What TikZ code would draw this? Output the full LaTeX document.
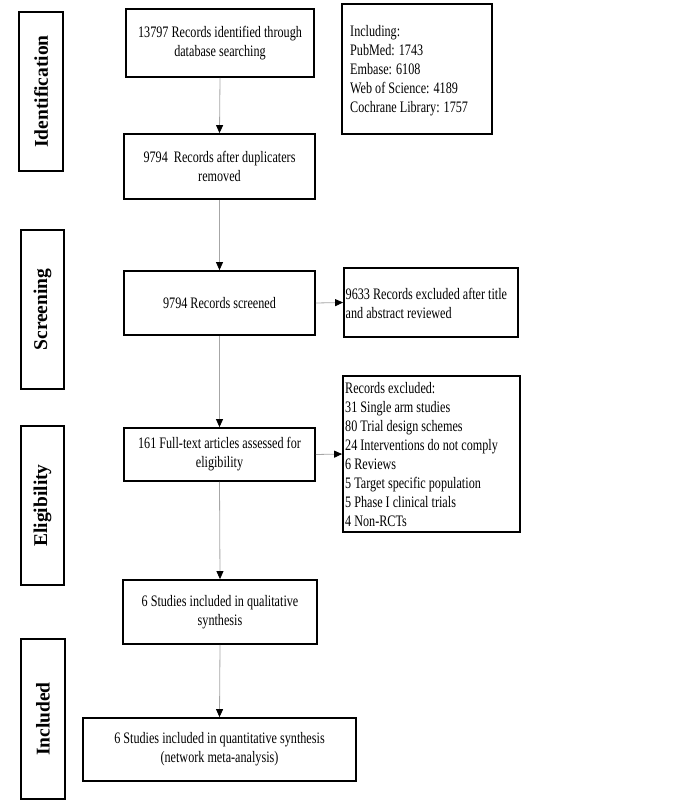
\documentclass[tikz,border=0pt]{standalone}
\usepackage{fontspec}
\setmainfont{Liberation Serif}[FakeStretch=0.76]
\newfontfamily\labfont{Liberation Serif}
\usetikzlibrary{arrows.meta}
\tikzset{
  box/.style={draw=black, line width=1.8pt, inner sep=0pt, align=center, font=\fontsize{16}{19}\selectfont},
  txt/.style={inner sep=0pt, anchor=west, align=left, font=\fontsize{16}{19}\selectfont},
  side/.style={draw=black, line width=1.8pt, inner sep=0pt},
  sidetext/.style={rotate=90, font=\labfont\fontsize{19.5}{22}\selectfont\bfseries},
  flow/.style={draw=gray!70, line width=0.8pt, -{Triangle[color=black, length=8pt, width=7pt]}}
}
\begin{document}
\begin{tikzpicture}[x=1pt,y=-1pt]
\useasboundingbox (0,0) rectangle (685,802);
% side labels
\node[side, minimum width=44pt, minimum height=159pt] (l1) at (41,91.5) {};
\node[sidetext] (t1) at (l1.center) {Identification};
\node[side, minimum width=43pt, minimum height=159pt] (l2) at (42.5,309.5) {};
\node[sidetext] (t2) at (l2.center) {Screening};
\node[side, minimum width=43pt, minimum height=159pt] (l3) at (42.5,505.5) {};
\node[sidetext] (t3) at (l3.center) {Eligibility};
\node[side, minimum width=44pt, minimum height=160pt] (l4) at (43,719) {};
\node[sidetext] (t4) at (l4.center) {Included};
% main boxes
\node[box, minimum width=188pt, minimum height=68pt] (b1) at (220,43) {13797 Records identified through\\database searching};
\node[box, minimum width=150pt, minimum height=130pt] (inc) at (417,69) {};
\node[txt] (inct) at (350,71) {Including:\\PubMed: 1743\\Embase: 6108\\Web of Science: 4189\\Cochrane Library: 1757};
\node[box, minimum width=191pt, minimum height=65pt] (b2) at (219.5,166.5) {9794\ \ Records after duplicaters\\removed};
\node[box, minimum width=191pt, minimum height=64pt] (b3) at (219.5,303) {9794 Records screened};
\node[box, minimum width=174pt, minimum height=69pt] (ex1) at (431,302.5) {};
\node[txt] (ex1t) at (345.5,303.5) {9633 Records excluded after title\\and abstract reviewed};
\node[box, minimum width=191pt, minimum height=53pt] (b4) at (219.5,454.5) {161 Full-text articles assessed for\\eligibility};
\node[box, minimum width=177pt, minimum height=156pt] (ex2) at (431.5,454) {};
\node[txt] (ex2t) at (345,454.5) {Records excluded:\\31 Single arm studies\\80 Trial design schemes\\24 Interventions do not comply\\6 Reviews\\5 Target specific population\\5 Phase I clinical trials\\4 Non-RCTs};
\node[box, minimum width=194pt, minimum height=64pt] (b5) at (220,612) {6 Studies included in qualitative\\synthesis};
\node[box, minimum width=273pt, minimum height=63pt] (b6) at (219.5,749.5) {6 Studies included in quantitative synthesis\\(network meta-analysis)};
% connectors
\draw[flow] (b1.south) -- (b2.north);
\draw[flow] (b2.south) -- (b3.north);
\draw[flow] (b3.south) -- (b4.north);
\draw[flow] (b4.south) -- (b5.north);
\draw[flow] (b5.south) -- (b6.north);
\draw[flow] (b3.east) -- (ex1.west);
\draw[flow] (b4.east) -- (ex2.west);
\end{tikzpicture}
\end{document}
